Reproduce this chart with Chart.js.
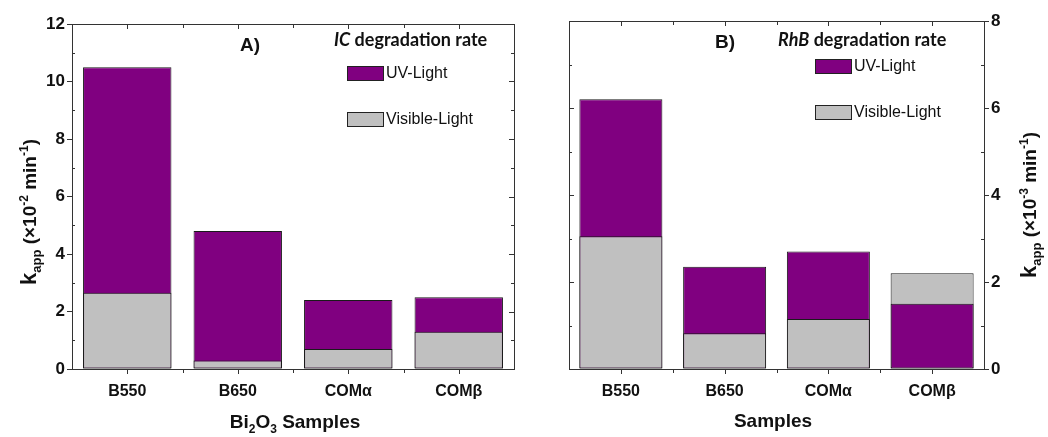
<!DOCTYPE html>
<html>
<head>
<meta charset="utf-8">
<script src="https://cdn.jsdelivr.net/npm/chart.js@4.4.1/dist/chart.umd.min.js"></script>
<style>
  body { margin: 0; background: #fff; width: 1048px; height: 437px; overflow: hidden; position: relative; }
  .panel { position: absolute; top: 0; height: 437px; }
</style>
</head>
<body>
<div class="panel" style="left:0;width:520px"><canvas id="chartIC" width="520" height="437"></canvas></div>
<div class="panel" style="left:520px;width:528px"><canvas id="chartRhB" width="528" height="437"></canvas></div>
<script>
// samples and apparent rate constants
const samples = ['B550', 'B650', 'COMα', 'COMβ'];
const icUV = [10.5, 4.8, 2.4, 2.5];          // x10^-2 min^-1
const icVisible = [2.65, 0.3, 0.7, 1.3];
const rhbUV = [6.2, 2.35, 2.7, 1.5];         // x10^-3 min^-1
const rhbVisible = [3.05, 0.82, 1.15, 2.2];
const icTicks = [0, 2, 4, 6, 8, 10, 12];
const rhbTicks = [0, 2, 4, 6, 8];

const UV_COLOR = '#800080';
const VIS_COLOR = '#c0c0c0';
const AXIS_FONT = 'Arial, "Liberation Sans", sans-serif';
const TITLE_FONT = 'Lato, "Open Sans", sans-serif';

// both bars start at zero; the taller one sits behind the shorter one
function overlaidBars(uv, vis) {
  const common = {
    borderColor: '#1a1a1a',
    borderWidth: 1,
    borderSkipped: false,
    grouped: false,
    barPercentage: 0.8,
    categoryPercentage: 1
  };
  return [
    Object.assign({
      label: 'front',
      data: uv.map((u, i) => Math.min(u, vis[i])),
      backgroundColor: uv.map((u, i) => (u >= vis[i] ? VIS_COLOR : UV_COLOR)),
      order: 0
    }, common),
    Object.assign({
      label: 'back',
      data: uv.map((u, i) => Math.max(u, vis[i])),
      backgroundColor: uv.map((u, i) => (u >= vis[i] ? UV_COLOR : VIS_COLOR)),
      order: 1
    }, common)
  ];
}

// draws a run of text pieces with their own fonts and baseline shifts
function richWidth(ctx, parts) {
  let w = 0;
  parts.forEach(p => { ctx.font = p.font; w += ctx.measureText(p.text).width; });
  return w;
}
function drawRich(ctx, parts, x, y, align) {
  let cx = align === 'center' ? x - richWidth(ctx, parts) / 2 : x;
  ctx.textAlign = 'left';
  ctx.textBaseline = 'alphabetic';
  parts.forEach(p => {
    ctx.font = p.font;
    ctx.fillText(p.text, cx, y + (p.dy || 0));
    cx += ctx.measureText(p.text).width;
  });
}

const b = (size) => 'bold ' + size + 'px ' + AXIS_FONT;

// frame, minor ticks, legend, panel label and axis titles
const panelDecor = {
  id: 'panelDecor',
  afterDraw(chart, args, opts) {
    const ctx = chart.ctx;
    const a = chart.chartArea;
    const xs = chart.scales.x, ys = chart.scales.y;
    const yOnRight = ys.position === 'right';
    ctx.save();
    ctx.strokeStyle = '#333';
    ctx.lineWidth = 1;
    ctx.strokeRect(Math.round(a.left) + 0.5, Math.round(a.top) + 0.5,
      Math.round(a.right - a.left), Math.round(a.bottom - a.top));

    ctx.beginPath();
    // y ticks: majors mirrored inside on the far side, minors inside on both sides
    const yTicks = ys.ticks.map(t => t.value);
    yTicks.forEach((v, i) => {
      const py = Math.round(ys.getPixelForValue(v)) + 0.5;
      const far = yOnRight ? a.left : a.right;
      const dir = yOnRight ? 1 : -1;
      ctx.moveTo(far, py); ctx.lineTo(far + dir * 5, py);
      if (i < yTicks.length - 1) {
        const my = Math.round(ys.getPixelForValue((v + yTicks[i + 1]) / 2)) + 0.5;
        ctx.moveTo(a.left, my); ctx.lineTo(a.left + 3, my);
        ctx.moveTo(a.right, my); ctx.lineTo(a.right - 3, my);
      }
    });
    // x ticks at category centres, minor ones at the boundaries
    samples.forEach((s, i) => {
      const px = Math.round(xs.getPixelForValue(i)) + 0.5;
      ctx.moveTo(px, a.bottom); ctx.lineTo(px, a.bottom + 5);
      ctx.moveTo(px, a.top); ctx.lineTo(px, a.top + 5);
      if (i > 0) {
        const bx = Math.round((xs.getPixelForValue(i - 1) + xs.getPixelForValue(i)) / 2) + 0.5;
        ctx.moveTo(bx, a.bottom); ctx.lineTo(bx, a.bottom + 4);
        ctx.moveTo(bx, a.top); ctx.lineTo(bx, a.top + 4);
      }
    });
    ctx.stroke();

    ctx.fillStyle = '#111';
    // panel label
    ctx.font = 'bold 19px ' + AXIS_FONT;
    ctx.textAlign = 'left';
    ctx.textBaseline = 'middle';
    ctx.fillText(opts.panel.text, opts.panel.x, opts.panel.y);

    // legend title
    drawRich(ctx, [
      { text: opts.dye, font: 'italic bold 18px ' + TITLE_FONT },
      { text: ' degradation rate', font: 'bold 18px ' + TITLE_FONT }
    ], opts.legend.x, opts.legend.titleY, 'left');

    // legend entries
    opts.legend.items.forEach(it => {
      ctx.fillStyle = it.color;
      ctx.fillRect(opts.legend.boxX, it.y, 36, 14);
      ctx.strokeStyle = '#222';
      ctx.strokeRect(opts.legend.boxX + 0.5, it.y + 0.5, 36, 14);
      ctx.fillStyle = '#111';
      ctx.font = '16px ' + AXIS_FONT;
      ctx.textAlign = 'left';
      ctx.textBaseline = 'middle';
      ctx.fillText(it.label, opts.legend.boxX + 39, it.y + 8);
    });

    // x axis title
    drawRich(ctx, opts.xTitle.parts, opts.xTitle.x, opts.xTitle.y, 'center');

    // y axis title, rotated
    ctx.save();
    ctx.translate(opts.yTitle.x, opts.yTitle.y);
    ctx.rotate(-Math.PI / 2);
    drawRich(ctx, [
      { text: 'k', font: b(22) },
      { text: 'app', font: b(13), dy: 5 },
      { text: ' (×10', font: b(19) },
      { text: opts.yTitle.exp, font: b(12), dy: -8 },
      { text: ' min', font: b(19) },
      { text: '-1', font: b(12), dy: -8 },
      { text: ')', font: b(19) }
    ], 0, 8, 'center');
    ctx.restore();
    ctx.restore();
  }
};

function makeChart(id, uv, vis, ticks, side, cfg) {
  const yMax = ticks[ticks.length - 1];
  return new Chart(document.getElementById(id), {
    type: 'bar',
    data: { labels: samples, datasets: overlaidBars(uv, vis) },
    plugins: [panelDecor],
    options: {
      responsive: false,
      animation: false,
      layout: { padding: cfg.padding },
      plugins: {
        legend: { display: false },
        tooltip: { enabled: false },
        panelDecor: cfg.decor
      },
      scales: {
        x: {
          offset: true,
          grid: { display: false },
          border: { display: false },
          ticks: { color: '#111', font: { family: AXIS_FONT, size: 16, weight: 'bold' }, padding: 5, maxRotation: 0 },
          afterFit: s => { s.height = 68; }
        },
        y: {
          position: side,
          min: 0,
          max: yMax,
          afterBuildTicks: s => { s.ticks = ticks.map(v => ({ value: v })); },
          grid: { drawOnChartArea: false, tickLength: 5, color: '#333' },
          border: { display: false },
          ticks: { color: '#111', font: { family: AXIS_FONT, size: 17, weight: 'bold' }, padding: 2 },
          afterFit: s => { s.width = cfg.yWidth; }
        }
      }
    }
  });
}

makeChart('chartIC', icUV, icVisible, icTicks, 'left', {
  padding: { top: 24, right: 6, left: 0, bottom: 0 },
  yWidth: 72,
  decor: {
    panel: { text: 'A)', x: 240, y: 46 },
    dye: 'IC',
    legend: {
      x: 334, titleY: 46, boxX: 347,
      items: [
        { label: 'UV-Light', color: UV_COLOR, y: 66 },
        { label: 'Visible-Light', color: VIS_COLOR, y: 112 }
      ]
    },
    xTitle: {
      x: 295, y: 428,
      parts: [
        { text: 'Bi', font: b(19) },
        { text: '2', font: b(12), dy: 5 },
        { text: 'O', font: b(19) },
        { text: '3', font: b(12), dy: 5 },
        { text: ' Samples', font: b(19) }
      ]
    },
    yTitle: { x: 28, y: 212, exp: '-2' }
  }
});

makeChart('chartRhB', rhbUV, rhbVisible, rhbTicks, 'right', {
  padding: { top: 21, right: 0, left: 49, bottom: 0 },
  yWidth: 64,
  decor: {
    panel: { text: 'B)', x: 195, y: 43 },
    dye: 'RhB',
    legend: {
      x: 258, titleY: 46, boxX: 295,
      items: [
        { label: 'UV-Light', color: UV_COLOR, y: 59 },
        { label: 'Visible-Light', color: VIS_COLOR, y: 105 }
      ]
    },
    xTitle: {
      x: 253, y: 427,
      parts: [{ text: 'Samples', font: b(19) }]
    },
    yTitle: { x: 508, y: 205, exp: '-3' }
  }
});
</script>
</body>
</html>
